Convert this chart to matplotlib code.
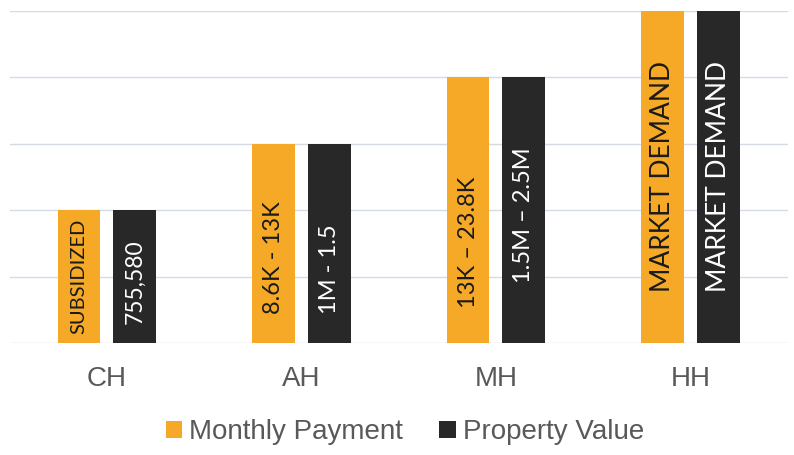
import matplotlib
matplotlib.use("Agg")
import matplotlib.pyplot as plt
import numpy as np

categories = ["CH", "AH", "MH", "HH"]
monthly_values = [2, 3, 4, 5]
property_values = [2, 3, 4, 5]
monthly_labels = ["SUBSIDIZED", "8.6K - 13K", "13K \u2013 23.8K", "MARKET DEMAND"]
property_labels = ["755,580", "1M - 1.5", "1.5M \u2013 2.5M", "MARKET DEMAND"]
series_names = ["Monthly Payment", "Property Value"]

# layout: vertical centre of each in-bar label, as a fraction of its bar height
monthly_label_frac = [0.50, 0.43, 0.38, 0.50]
property_label_frac = [0.46, 0.37, 0.48, 0.50]
label_sizes = [14.5, 17, 17, 19]
property_label_sizes = [16.5, 17, 17, 19]

ORANGE = "#F5A927"
DARK = "#282828"
GRAY = "#595959"

fig = plt.figure(figsize=(7.94, 4.55), dpi=100)
ax = fig.add_axes([0.012, 0.246, 0.980, 0.730])

x = np.arange(len(categories))
w = 0.22
off = 0.143
b1 = ax.bar(x - off, monthly_values, w, color=ORANGE, label=series_names[0], zorder=2)
b2 = ax.bar(x + off, property_values, w, color=DARK, label=series_names[1], zorder=2)

ax.set_xlim(-0.5, len(categories) - 0.5)
ax.set_ylim(0, 5)
ax.set_yticks(range(0, 6))
ax.yaxis.grid(True, color="#d5dbe6", linewidth=1.0, zorder=0)
ax.set_axisbelow(True)
for s in ax.spines.values():
    s.set_visible(False)
ax.tick_params(axis="y", left=False, labelleft=False)
ax.tick_params(axis="x", bottom=False, pad=13)
ax.set_xticks(x)
ax.set_xticklabels(categories, fontsize=20, color=GRAY, family="Liberation Sans")

for i in range(len(categories)):
    ax.text(x[i] - off, monthly_values[i] * monthly_label_frac[i], monthly_labels[i],
            rotation=90, ha="center", va="center", fontsize=label_sizes[i],
            color="#1a1a1a", family="Lato", zorder=3)
    ax.text(x[i] + off, property_values[i] * property_label_frac[i], property_labels[i],
            rotation=90, ha="center", va="center", fontsize=property_label_sizes[i],
            color="white", family="Lato", zorder=3)

leg = fig.legend(handles=[b1, b2], labels=series_names, loc="center",
                 bbox_to_anchor=(0.51, 0.05), ncol=2, frameon=False,
                 prop={"family": "Liberation Sans", "size": 20},
                 handlelength=0.6, handleheight=0.6, handletextpad=0.25,
                 columnspacing=1.3)
for t in leg.get_texts():
    t.set_color(GRAY)

fig.savefig("out.png", dpi=100)
